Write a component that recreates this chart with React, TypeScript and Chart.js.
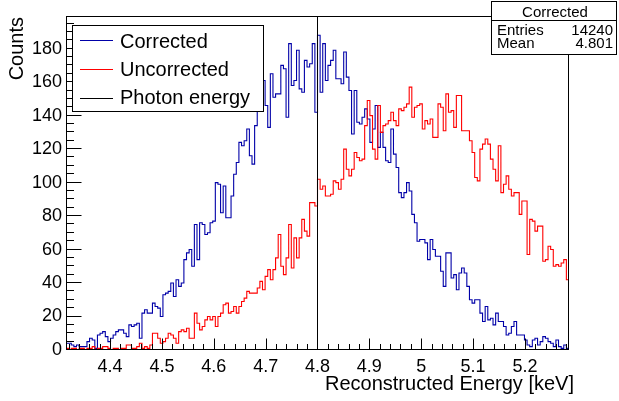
import { useEffect, useRef } from 'react';
import { Chart, registerables } from 'chart.js';

Chart.register(...registerables);

// ---- axis ranges & ticks ----
const X_MIN = 4.315;
const X_MAX = 5.285;
const Y_MAX = 199.5;
const xMajorStep = 0.1;
const xMinorStep = 0.02;
const yMajorStep = 20;
const yMinorStep = 5;

// ---- data (counts per bin, equal bins from X_MIN to X_MAX) ----
const correctedCounts = [
  4, 4, 3, 2, 3, 2, 2, 2, 5, 7,
  6, 1, 9, 10, 11, 8, 5, 7, 9, 11,
  12, 12, 10, 8, 15, 14, 15, 16, 7, 22,
  24, 22, 22, 28, 26, 25, 20, 33, 34, 35,
  40, 32, 42, 38, 40, 54, 58, 60,
  50, 75, 54, 76, 75, 69, 70, 76, 77, 100, 99, 82, 98, 79, 79, 92, 105, 112, 124, 122, 125, 132, 116, 111, 134, 150, 155,
  161, 146, 133, 165, 151, 153, 153, 170, 168, 139, 183, 158, 161, 179, 156, 154, 173, 169, 171, 183, 142, 188,
  154, 183, 161, 170, 173, 179, 162, 162, 159, 178, 163, 155, 129, 155, 136, 135, 139, 144, 138, 124, 132, 146, 121, 130, 121, 113, 112, 132, 117, 109, 94,
  91, 94, 100, 95, 81, 76, 65, 66, 66, 64, 54, 66, 60, 56, 56, 47, 38, 58, 58, 43, 45, 36, 46, 49, 46, 38, 30, 28, 30, 30,
  22, 17, 26, 18, 19, 15, 22, 17, 17, 14, 9, 10, 14, 17, 9, 9, 9, 6, 3, 2, 6, 7, 3, 5, 8, 7, 5, 4, 2, 6, 2, 1, 3, 1,
];

const uncorrectedCounts = [
  1, 0, 1, 1, 0, 1, 1, 0, 1, 1,
  2, 0, 1, 1, 2, 2, 1, 0, 1, 1,
  0, 1, 1, 3, 3, 1, 1, 2, 4, 1,
  2, 1, 3, 10, 10, 7, 4, 5, 7, 10,
  9, 7, 4, 11, 12, 11, 13, 7,
  7, 22, 16, 12, 14, 18, 20, 18, 20, 14, 20, 22, 27, 28, 22, 23, 26, 22, 26, 29, 31, 35,
  34, 34, 34, 37, 41,
  36, 44, 48, 42, 48, 55, 69, 50, 45, 55, 75, 49, 67, 55, 67, 78, 71, 68, 88, 88, 86, 102,
  96, 98, 92, 92, 93, 101, 100, 96, 102, 120, 108, 104, 108, 118, 115, 113, 114, 134, 149, 140, 120, 114, 146, 130, 134, 135, 137, 142, 137, 134, 144,
  143, 145, 147, 157, 139, 145, 146, 147, 132, 137, 135, 138, 127, 127, 147, 145, 131, 153, 142, 143, 133, 152, 152, 131, 131, 131, 125, 118, 103, 101, 120, 123, 126, 123,
  114, 108, 101, 122, 94, 99, 104, 96, 92, 94, 94, 81, 89, 89, 57, 78, 77, 71, 74, 74, 53, 54, 62, 60, 50, 51, 50, 52, 54, 42,
];

const photonEnergy = 4.8;
const seriesLabels = ['Corrected', 'Uncorrected', 'Photon energy'];
const xTitle = 'Reconstructed Energy [keV]';
const yTitle = 'Counts';
const statsTitle = 'Corrected';
const statsRows = [
  ['Entries', '14240'],
  ['Mean', '4.801'],
];

const BLUE = '#0000a8';
const RED = '#ff0000';
const BLACK = '#000000';
const FONT = '"Liberation Sans", Arial, Helvetica, sans-serif';

function histPoints(counts: number[]) {
  const w = (X_MAX - X_MIN) / counts.length;
  const pts = counts.map((c, i) => ({ x: X_MIN + i * w, y: c }));
  pts.push({ x: X_MAX, y: counts[counts.length - 1] });
  return pts;
}

const rootStyle = {
  id: 'rootStyle',
  afterDatasetsDraw(chart: any) {
    const { ctx, chartArea: a, scales } = chart;
    const xs = scales.x;
    const ys = scales.y;
    const L = Math.round(a.left);
    const R = Math.round(a.right);
    const T = Math.round(a.top);
    const B = Math.round(a.bottom);
    ctx.save();
    ctx.strokeStyle = BLACK;
    ctx.lineWidth = 1;

    // frame
    ctx.strokeRect(L + 0.5, T + 0.5, R - L - 1, B - T - 1);

    // ticks
    ctx.beginPath();
    const k0 = Math.ceil(X_MIN / xMinorStep - 1e-6);
    for (let k = k0; k * xMinorStep <= X_MAX + 1e-9; k++) {
      const v = k * xMinorStep;
      const r = v / xMajorStep;
      const major = Math.abs(r - Math.round(r)) < 1e-6;
      const px = Math.round(xs.getPixelForValue(v)) + 0.5;
      ctx.moveTo(px, B - 0.5);
      ctx.lineTo(px, B - 0.5 - (major ? 11 : 5.5));
    }
    for (let k = 0; k * yMinorStep <= Y_MAX + 1e-9; k++) {
      const v = k * yMinorStep;
      const major = v % yMajorStep === 0;
      const py = Math.round(ys.getPixelForValue(v)) - 0.5;
      ctx.moveTo(L + 0.5, py);
      ctx.lineTo(L + 0.5 + (major ? 15 : 7.5), py);
    }
    ctx.stroke();

    // axis titles
    ctx.fillStyle = BLACK;
    ctx.font = `20px ${FONT}`;
    ctx.textAlign = 'right';
    ctx.textBaseline = 'alphabetic';
    ctx.fillText(xTitle, 574, 390);
    ctx.save();
    ctx.translate(23, 17);
    ctx.rotate(-Math.PI / 2);
    ctx.textAlign = 'right';
    ctx.fillText(yTitle, 0, 0);
    ctx.restore();

    // legend
    const lx0 = 72.5, ly0 = 25.5, lx1 = 263.5, ly1 = 111.5;
    ctx.fillStyle = '#ffffff';
    ctx.fillRect(lx0, ly0, lx1 - lx0, ly1 - ly0);
    ctx.strokeStyle = BLACK;
    ctx.strokeRect(lx0, ly0, lx1 - lx0, ly1 - ly0);
    const colors = [BLUE, RED, BLACK];
    const rowsY = [40.5, 69.5, 98.5];
    const baseY = [47.5, 76, 104];
    ctx.font = `20px ${FONT}`;
    ctx.textAlign = 'left';
    for (let i = 0; i < 3; i++) {
      ctx.strokeStyle = colors[i];
      ctx.beginPath();
      ctx.moveTo(80, rowsY[i]);
      ctx.lineTo(113, rowsY[i]);
      ctx.stroke();
      ctx.fillStyle = BLACK;
      ctx.fillText(seriesLabels[i], 120, baseY[i]);
    }

    // stats box
    const sx0 = 491.5, sy0 = 1.5, sx1 = 616.5, sy1 = 54.5, sep = 20.5;
    ctx.fillStyle = '#ffffff';
    ctx.fillRect(sx0, sy0, sx1 - sx0, sy1 - sy0);
    ctx.strokeStyle = BLACK;
    ctx.strokeRect(sx0, sy0, sx1 - sx0, sy1 - sy0);
    ctx.beginPath();
    ctx.moveTo(sx0, sep);
    ctx.lineTo(sx1, sep);
    ctx.stroke();
    ctx.fillStyle = BLACK;
    ctx.font = `15px ${FONT}`;
    ctx.textAlign = 'center';
    ctx.fillText(statsTitle, 555, 16.5);
    const statY = [34.5, 48];
    statsRows.forEach((row, i) => {
      ctx.textAlign = 'left';
      ctx.fillText(row[0], 497, statY[i]);
      ctx.textAlign = 'right';
      ctx.fillText(row[1], 613, statY[i]);
    });
    ctx.restore();
  },
};

export default function App() {
  const ref = useRef<HTMLCanvasElement | null>(null);
  useEffect(() => {
    if (!ref.current) return;
    const chart = new Chart(ref.current, {
      type: 'line',
      data: {
        datasets: [
          {
            label: seriesLabels[2],
            data: [
              { x: photonEnergy, y: 0 },
              { x: photonEnergy, y: Y_MAX },
            ],
            borderColor: BLACK,
            borderWidth: 1,
            pointRadius: 0,
            fill: false,
          },
          {
            label: seriesLabels[1],
            data: histPoints(uncorrectedCounts),
            borderColor: RED,
            borderWidth: 1.1,
            pointRadius: 0,
            fill: false,
            stepped: 'before',
          },
          {
            label: seriesLabels[0],
            data: histPoints(correctedCounts),
            borderColor: BLUE,
            borderWidth: 1.1,
            pointRadius: 0,
            fill: false,
            stepped: 'before',
          },
        ],
      },
      options: {
        animation: false,
        responsive: false,
        devicePixelRatio: 1,
        layout: { padding: { top: 16, right: 50, left: 0, bottom: 0 } },
        plugins: { legend: { display: false }, tooltip: { enabled: false } },
        scales: {
          x: {
            type: 'linear',
            min: X_MIN,
            max: X_MAX,
            grid: { display: false, drawTicks: false },
            border: { display: false },
            ticks: {
              stepSize: xMajorStep,
              includeBounds: false,
              padding: 6,
              color: BLACK,
              font: { family: FONT, size: 18 },
              maxRotation: 0,
              autoSkip: false,
              callback: (v: any) => String(Math.round(Number(v) * 10) / 10),
            },
            afterFit: (s: any) => {
              s.height = 51;
            },
          },
          y: {
            type: 'linear',
            min: 0,
            max: Y_MAX,
            grid: { display: false, drawTicks: false },
            border: { display: false },
            ticks: {
              stepSize: yMajorStep,
              includeBounds: false,
              padding: 4,
              color: BLACK,
              font: { family: FONT, size: 18 },
              autoSkip: false,
              callback: (v: any) => String(Math.round(Number(v))),
            },
            afterFit: (s: any) => {
              s.width = 66;
            },
          },
        },
      },
      plugins: [rootStyle],
    });
    return () => chart.destroy();
  }, []);
  return (
    <div style={{ position: 'absolute', left: 0, top: 0, width: 619, height: 401, background: '#fff' }}>
      <canvas ref={ref} width={619} height={401} style={{ display: 'block' }} />
    </div>
  );
}
